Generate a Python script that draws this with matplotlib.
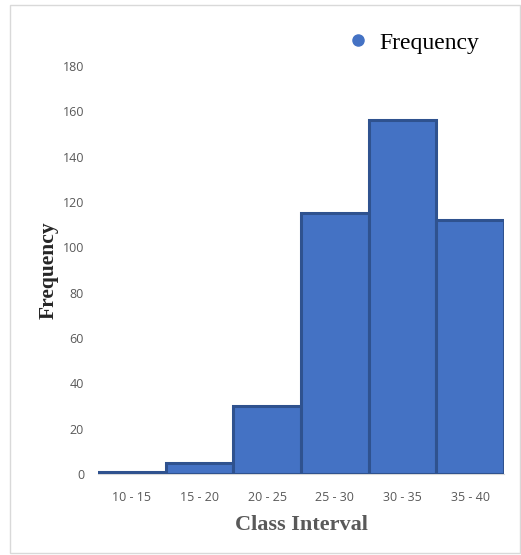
import matplotlib
matplotlib.use('Agg')
import matplotlib.pyplot as plt
from matplotlib.patches import Rectangle
from matplotlib.lines import Line2D

classes = ['10 - 15', '15 - 20', '20 - 25', '25 - 30', '30 - 35', '35 - 40']
frequency = [1, 5, 30, 115, 156, 112]
yticks = [0, 20, 40, 60, 80, 100, 120, 140, 160, 180]

W, H = 521, 555
fig = plt.figure(figsize=(W / 100, H / 100), dpi=100)

# light grey frame around the whole chart
fig.patches.append(Rectangle((10 / W, 1 - 553 / H), 510 / W, 548 / H, transform=fig.transFigure,
                             fill=False, ec='#d9d9d9', lw=1))

ax = fig.add_axes([98 / W, 1 - 474 / H, 406 / W, 408 / H])
ax.bar(range(len(classes)), frequency, width=1.0, color='#4472c4', edgecolor='#2f528f',
       linewidth=2.2, zorder=3)
ax.set_xlim(-0.5, len(classes) - 0.5)
ax.set_ylim(0, 180)
ax.set_yticks(yticks)
ax.set_xticks(range(len(classes)))
ax.set_xticklabels(classes)
for s in ['top', 'right', 'left']:
    ax.spines[s].set_visible(False)
ax.spines['bottom'].set_color('#d9d9d9')
ax.tick_params(length=0, labelsize=9, labelcolor='#595959', pad=10)
ax.tick_params(axis='x', pad=12)
for t in ax.get_xticklabels() + ax.get_yticklabels():
    t.set_family('Open Sans')

ax.set_xlabel('Class Interval', family='Liberation Serif', weight='bold', fontsize=16,
              color='#595959', labelpad=8)
ax.set_ylabel('Frequency', family='Liberation Serif', weight='bold', fontsize=15.5,
              color='#262626', labelpad=3)

handle = Line2D([], [], marker='o', ls='none', color='#4472c4', markersize=8)
fig.legend([handle], ['Frequency'], loc='center', bbox_to_anchor=(413 / W, 1 - 43 / H),
           frameon=False, prop={'family': 'Liberation Serif', 'size': 17},
           handletextpad=0.4, handlelength=1.0)

fig.savefig('out.png', dpi=100)
